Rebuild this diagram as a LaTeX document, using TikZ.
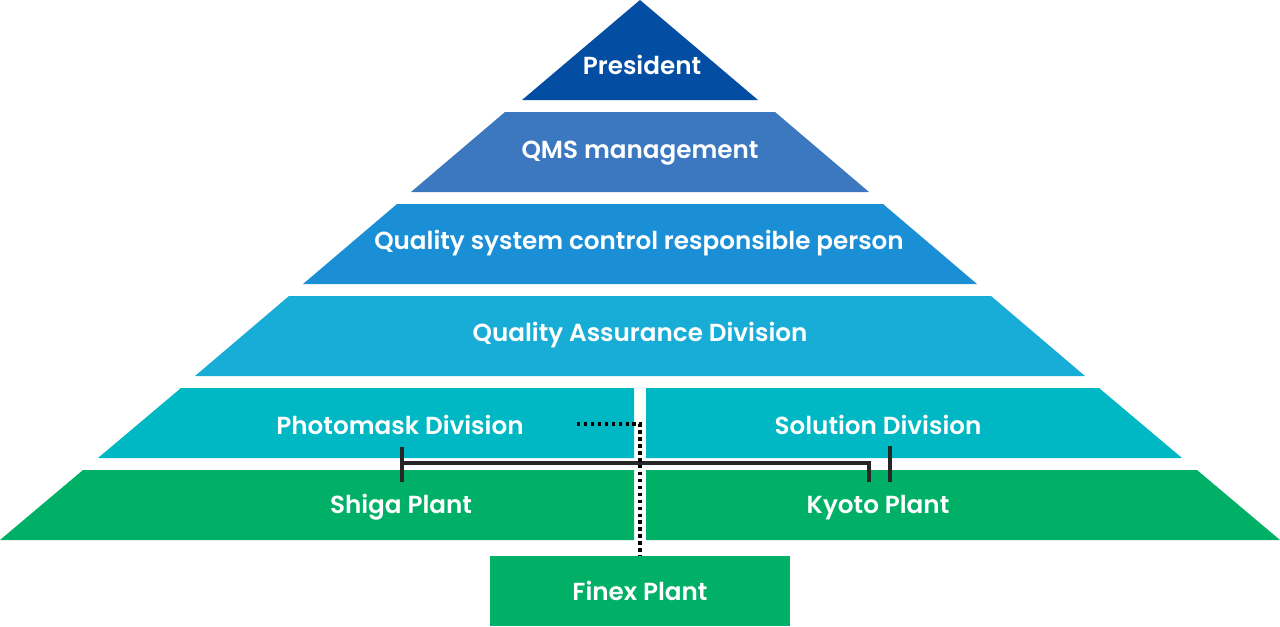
\documentclass[tikz,border=0pt]{standalone}
\usepackage{fontspec}
\newfontfamily\labfont{Poppins SemiBold}
\definecolor{cPres}{RGB}{3,78,162}
\definecolor{cQMS}{RGB}{59,120,191}
\definecolor{cQSC}{RGB}{27,143,214}
\definecolor{cQAD}{RGB}{23,173,214}
\definecolor{cDiv}{RGB}{0,183,196}
\definecolor{cPlant}{RGB}{0,176,102}
\begin{document}
\begin{tikzpicture}[x=0.75pt,y=-0.75pt,
  lab/.style={text=white,font=\labfont\fontsize{18.5}{22}\selectfont,inner sep=0pt,anchor=base},
  conn/.style={draw=black!85,line width=2.6pt},
  dotconn/.style={draw=black,line width=2.6pt,dash pattern=on 2.6pt off 2.6pt}]
\useasboundingbox (0,0) rectangle (1280,626);
% layers
\fill[cPres] (640,0) -- (758,100) -- (522,100) -- cycle;
\fill[cQMS] (505,112) -- (775,112) -- (869,192) -- (411,192) -- cycle;
\fill[cQSC] (397,204) -- (883,204) -- (977,284) -- (303,284) -- cycle;
\fill[cQAD] (289,296) -- (991,296) -- (1085,376) -- (195,376) -- cycle;
\fill[cDiv] (181,388) -- (634,388) -- (634,458) -- (98,458) -- cycle;
\fill[cDiv] (646,388) -- (1099,388) -- (1182,458) -- (646,458) -- cycle;
\fill[cPlant] (83,470) -- (634,470) -- (634,540) -- (0,540) -- cycle;
\fill[cPlant] (646,470) -- (1197,470) -- (1280,540) -- (646,540) -- cycle;
% labels
\node[lab] (pres) at (642,74) {President};
\node[lab] (qms) at (640,158) {QMS management};
\node[lab] (qsc) at (639,249) {Quality system control responsible person};
\node[lab] (qad) at (640,341) {Quality Assurance Division};
\node[lab] (photo) at (400,434) {Photomask Division};
\node[lab] (sol) at (878,434) {Solution Division};
\node[lab] (shiga) at (401,513) {Shiga Plant};
\node[lab] (kyoto) at (878,513) {Kyoto Plant};
\node[fill=cPlant,minimum width=300*0.75pt,minimum height=70*0.75pt,inner sep=0pt,
      text=white,font=\labfont\fontsize{18.5}{22}\selectfont] (finex) at (640,591) {Finex Plant};
% connector coordinates
\coordinate (ltTop) at (402,447);
\coordinate (ltBot) at (402,482);
\coordinate (lt) at (402,463);
\coordinate (rtCorner) at (869,463);
\coordinate (rtEnd) at (869,482);
\coordinate (tickTop) at (890,446);
\coordinate (tickBot) at (890,482);
\coordinate (dotStart) at (577,424);
\coordinate (dotCorner) at (640,424);
% solid connectors
\draw[conn] (ltTop) -- (ltBot);
\draw[conn] (lt) -- (rtCorner) -- (rtEnd);
\draw[conn] (tickTop) -- (tickBot);
% dotted connector
\draw[dotconn] (dotStart) -- (dotCorner) -- (finex.north);
\end{tikzpicture}
\end{document}
